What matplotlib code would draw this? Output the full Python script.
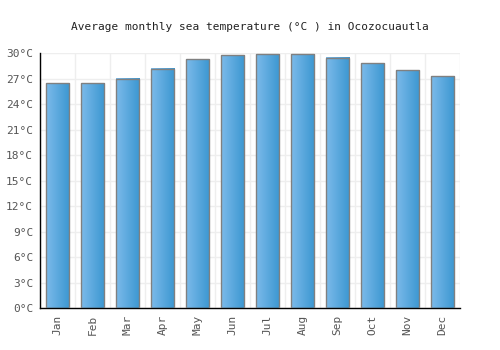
import numpy as np
import matplotlib
matplotlib.use("Agg")
import matplotlib.pyplot as plt
from matplotlib.colors import LinearSegmentedColormap

# Data
months = ["Jan", "Feb", "Mar", "Apr", "May", "Jun", "Jul", "Aug", "Sep", "Oct", "Nov", "Dec"]
temps = [26.5, 26.5, 27.0, 28.2, 29.3, 29.8, 29.9, 29.9, 29.5, 28.8, 28.0, 27.3]
yticks = [0, 3, 6, 9, 12, 15, 18, 21, 24, 27, 30]

plt.rcParams["font.family"] = ["DejaVu Sans Mono"]

fig = plt.figure(figsize=(5, 3.5), dpi=100)
ax = fig.add_axes([0.08, 0.12, 0.84, 0.7277])

x = np.arange(len(months))
width = 0.67
grad = LinearSegmentedColormap.from_list("bar", ["#7cbaea", "#3b97d1"])
gimg = np.linspace(0, 1, 64).reshape(1, -1)

bars = ax.bar(x, temps, width, color="none", edgecolor="#808080", linewidth=1.0, zorder=3)
for b in bars:
    x0, y0 = b.get_x(), b.get_y()
    ax.imshow(gimg, cmap=grad, aspect="auto", zorder=2,
              extent=[x0, x0 + b.get_width(), y0, y0 + b.get_height()])

ax.set_xlim(-0.5, len(months) - 0.5)
ax.set_ylim(0, 30)
ax.set_xticks(x)
ax.set_xticklabels(months, rotation=90, fontsize=8, color="#555555")
ax.set_yticks(yticks)
ax.set_yticklabels([f"{t}°C" for t in yticks], fontsize=8, color="#555555")
ax.set_xticks(np.arange(-0.5, len(months), 1), minor=True)
ax.tick_params(axis="both", which="both", length=0, pad=5)
ax.grid(True, axis="y", color="#eeeeee", lw=1, zorder=0)
ax.grid(True, axis="x", which="minor", color="#eeeeee", lw=1, zorder=0)

for side in ["top", "right"]:
    ax.spines[side].set_visible(False)
for side in ["left", "bottom"]:
    ax.spines[side].set_color("black")
    ax.spines[side].set_linewidth(1)

fig.text(0.5, 0.923, "Average monthly sea temperature (°C ) in Ocozocuautla",
         ha="center", va="center", fontsize=8, color="#222222")

fig.savefig("out.png", dpi=100)
